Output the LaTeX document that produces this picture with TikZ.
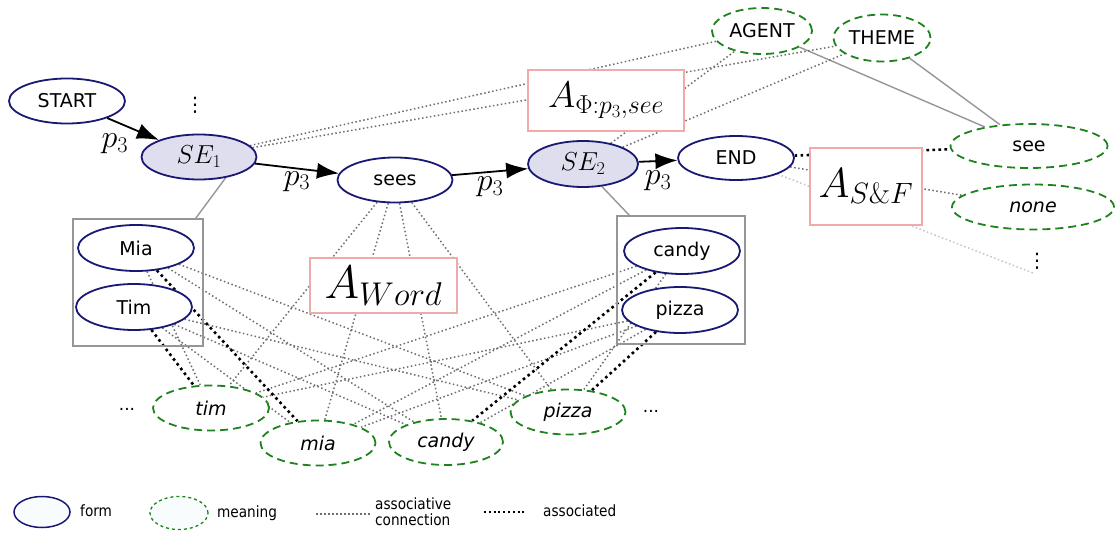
\RequirePackage{fix-cm}
\documentclass[tikz,border=0pt]{standalone}
\usepackage[no-math]{fontspec}
\setmainfont{DejaVu Sans}
\newfontfamily\legendfont[FakeStretch=0.88]{DejaVu Sans}
\usetikzlibrary{shapes.geometric,arrows.meta,backgrounds}

\definecolor{formblue}{RGB}{25,25,115}
\definecolor{meangreen}{RGB}{30,130,30}
\definecolor{sefill}{RGB}{222,222,238}
\definecolor{assocbox}{RGB}{240,170,170}
\definecolor{groupgray}{RGB}{150,150,150}
\definecolor{linkgray}{RGB}{110,110,110}
\definecolor{legendfill}{RGB}{248,252,252}

\tikzset{
  form/.style={ellipse, draw=formblue, line width=1.8pt, fill=white, inner sep=0pt,
    font=\fontsize{19}{22}\selectfont},
  sentnode/.style={form, fill=sefill, font=\fontsize{26}{30}\selectfont},
  meaning/.style={ellipse, draw=meangreen, line width=1.8pt, dash pattern=on 8pt off 5pt,
    fill=white, inner sep=0pt, font=\fontsize{19}{22}\selectfont},
  meaningit/.style={meaning, font=\fontsize{19}{22}\selectfont\itshape},
  abox/.style={rectangle, draw=assocbox, line width=1.2pt, fill=white, inner sep=0pt},
  group/.style={rectangle, draw=groupgray, line width=1.5pt, inner sep=0pt},
  link/.style={linkgray, line width=1.5pt, dash pattern=on 1.5pt off 2.5pt},
  assoc/.style={black, line width=2.6pt, dash pattern=on 2.6pt off 3.4pt},
  flow/.style={-{Latex[length=22pt,width=16pt]}, line width=1.8pt},
  relation/.style={groupgray, line width=1.4pt},
  plabel/.style={font=\fontsize{32}{36}\selectfont, inner sep=1pt},
  moredots/.style={font=\fontsize{20}{22}\selectfont, inner sep=0pt},
  legendtext/.style={anchor=west, font=\fontsize{15.5}{17}\legendfont, align=left, inner sep=0pt},
}

\begin{document}
\begin{tikzpicture}[x=1pt, y=-1pt]
\useasboundingbox (0,0) rectangle (1116,534);

% sentence chain
\node[form, minimum width=116pt, minimum height=45pt] (start) at (67,101) {START};
\node[sentnode, minimum width=115pt, minimum height=45pt] (se1) at (199,157) {$SE_1$};
\node[form, minimum width=115pt, minimum height=45pt] (sees) at (395,180) {sees};
\node[sentnode, minimum width=110pt, minimum height=46pt] (se2) at (583,164) {$SE_2$};
\node[form, minimum width=116pt, minimum height=44pt] (endn) at (736,158) {END};
\node[moredots] (dotsTop) at (195,105) {⋮};

% roles
\node[meaning, minimum width=100pt, minimum height=46pt] (agent) at (762,31) {AGENT};
\node[meaning, minimum width=97pt, minimum height=47pt] (theme) at (882,38) {THEME};

% sequence-and-form meanings
\node[meaning, minimum width=157pt, minimum height=44pt] (mSee) at (1029,146) {see};
\node[meaningit, minimum width=162pt, minimum height=45pt] (mNone) at (1033,207) {none};
\node[moredots] (dotsSF) at (1037,261) {⋮};
\coordinate (sfEnd) at (1033,273);

% word forms grouped
\node[group, minimum width=130pt, minimum height=127pt] (gMT) at (138,282.5) {};
\node[form, minimum width=116pt, minimum height=46pt] (fMia) at (136,248) {Mia};
\node[form, minimum width=116pt, minimum height=46pt] (fTim) at (134,307) {Tim};
\node[group, minimum width=128pt, minimum height=128pt] (gCP) at (681,280) {};
\node[form, minimum width=116pt, minimum height=46pt] (fCandy) at (682,251) {candy};
\node[form, minimum width=116pt, minimum height=46pt] (fPizza) at (680,310) {pizza};

% word meanings
\node[meaningit, minimum width=116pt, minimum height=45pt] (mTim) at (211,408) {tim};
\node[meaningit, minimum width=115pt, minimum height=45pt] (mMia) at (318,443) {mia};
\node[meaningit, minimum width=114pt, minimum height=46pt] (mCandy) at (446,442) {candy};
\node[meaningit, minimum width=115pt, minimum height=45pt] (mPizza) at (568,412) {pizza};
\node[font=\fontsize{17}{20}\selectfont] (dotsL) at (127,409) {...};
\node[font=\fontsize{17}{20}\selectfont] (dotsR) at (651,411) {...};

% associative memories
\node[abox, minimum width=156pt, minimum height=61pt] (aPhi) at (606,100.5)
  {\fontsize{37}{40}\selectfont $A_{\Phi:p_3,see}$};
\node[abox, minimum width=147pt, minimum height=55pt] (aWord) at (383.5,285.5)
  {\fontsize{47}{50}\selectfont $A_{Word}$};
\node[abox, minimum width=112pt, minimum height=77pt] (aSF) at (866,186.5)
  {\fontsize{42}{45}\selectfont $A_{S\&F}$};

% transitions
\draw[flow] (start) -- node[plabel, below left=3pt] (p1) {$p_3$} (se1);
\draw[flow] (se1) -- node[plabel, below=1pt] (p2) {$p_3$} (sees);
\draw[flow] (sees) -- node[plabel, below=3pt] (p3) {$p_3$} (se2);
\draw[flow] (se2) -- node[plabel, below=8pt] (p4) {$p_3$} (endn);

\begin{pgfonlayer}{background}
  % sentence elements to their word groups
  \draw[relation] (se1.-38) -- ([xshift=-8pt]gMT.north east);
  \draw[relation] (se2.-50) -- ([xshift=13pt]gCP.north west);
  % roles to the verb meaning
  \draw[relation] (agent) -- (mSee);
  \draw[relation] (theme) -- (mSee);
  % sentence elements to roles
  \draw[link] (se1) -- (agent);
  \draw[link] (se1) -- (theme);
  \draw[link] (se2) -- (agent);
  \draw[link] (se2) -- (theme);
  % end of sentence to sequence-and-form meanings
  \draw[assoc] (endn) -- (mSee);
  \draw[link] (endn) -- (mNone);
  \draw[linkgray!40, line width=1.5pt, dash pattern=on 1.5pt off 2.5pt] (endn) -- (sfEnd);
  % the verb to the word meanings
  \foreach \m in {mTim,mMia,mCandy,mPizza} \draw[link] (sees) -- (\m);
  % forms to meanings
  \foreach \m in {mTim,mCandy,mPizza} \draw[link] (fMia) -- (\m);
  \foreach \m in {mMia,mCandy,mPizza} \draw[link] (fTim) -- (\m);
  \foreach \m in {mTim,mMia,mPizza} \draw[link] (fCandy) -- (\m);
  \foreach \m in {mTim,mMia,mCandy} \draw[link] (fPizza) -- (\m);
  \draw[assoc] (fMia) -- (mMia);
  \draw[assoc] (fTim) -- (mTim);
  \draw[assoc] (fCandy) -- (mCandy);
  \draw[assoc] (fPizza) -- (mPizza);
\end{pgfonlayer}

% legend
\node[ellipse, draw=formblue, line width=1.5pt, fill=legendfill, inner sep=0pt,
  minimum width=56pt, minimum height=31pt] (lgForm) at (42,512) {};
\node[legendtext] (lgFormT) at (80,511) {form};
\node[ellipse, draw=meangreen, line width=1.3pt, dash pattern=on 3pt off 3pt, fill=legendfill,
  inner sep=0pt, minimum width=58pt, minimum height=33pt] (lgMean) at (179,513) {};
\node[legendtext] (lgMeanT) at (217,513) {meaning};
\coordinate (lgLinkA) at (316,514);
\coordinate (lgLinkB) at (370,514);
\draw[link, line width=1.2pt] (lgLinkA) -- (lgLinkB);
\node[legendtext] (lgLinkT) at (375,512) {associative\\[-1pt]connection};
\coordinate (lgAssocA) at (484,512);
\coordinate (lgAssocB) at (527,512);
\draw[assoc, line width=2pt, dash pattern=on 2pt off 2.8pt] (lgAssocA) -- (lgAssocB);
\node[legendtext] (lgAssocT) at (543,511) {associated};
\end{tikzpicture}
\end{document}
